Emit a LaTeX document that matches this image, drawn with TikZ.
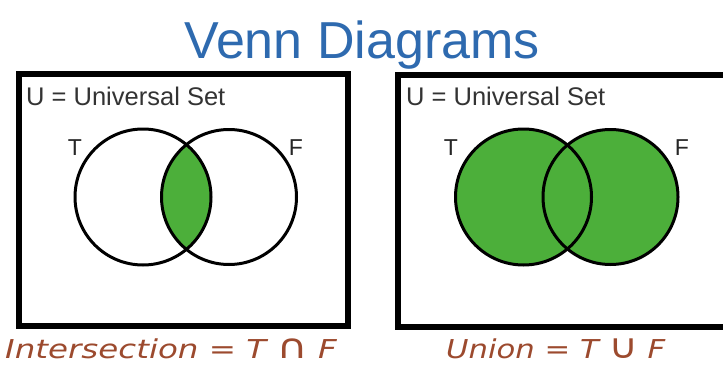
\documentclass[tikz,border=0pt]{standalone}
\usepackage{fontspec}
\setmainfont{Liberation Sans}
\newfontfamily\handfont{DejaVu Sans}
\usepackage{tikz}
\usetikzlibrary{positioning}
\definecolor{titleblue}{HTML}{2E6AAF}
\definecolor{venngreen}{HTML}{4CAF3A}
\definecolor{labelbrown}{HTML}{9C4A2E}
\newcommand{\bigop}[1]{{\fontsize{34}{30}\selectfont #1}}

\begin{document}
\begin{tikzpicture}[
    x=1pt, y=-1pt,
    every node/.style={inner sep=0pt},
    universe/.style={draw=black, line width=6.5pt},
    setline/.style={draw=black, line width=3pt},
    setfill/.style={fill=venngreen},
    setname/.style={text=black!85, font=\fontsize{23}{26}\selectfont},
    unilabel/.style={anchor=base west, text=black!80, font=\fontsize{25.5}{28}\selectfont},
    oplabel/.style={anchor=base west, text=labelbrown, font=\handfont\itshape\fontsize{26}{30}\selectfont}
]
    \useasboundingbox (0,0) rectangle (723,367);
    \fill[white] (0,0) rectangle (723,367);
    \begin{scope}
    \clip (0,0) rectangle (723,367);

    % Title
    \node[anchor=base, text=titleblue, font=\fontsize{52}{60}\selectfont] (title) at (362,58) {Venn Diagrams};

    % Intersection
    \coordinate (lt) at (143,197);
    \coordinate (lf) at (229,197);
    \draw[universe] (19,74) rectangle (348,326);
    \node[unilabel] (lu) at (26,105) {U = Universal Set};
    \begin{scope}
        \clip (lt) circle[radius=68pt];
        \fill[setfill] (lf) circle[radius=67.5pt];
    \end{scope}
    \draw[setline] (lt) circle[radius=68pt];
    \draw[setline] (lf) circle[radius=67.5pt];
    \node[setname] (ltname) at (75,148) {T};
    \node[setname] (lfname) at (296,148) {F};
    \node[oplabel] (inter) at (5,358) {\scalebox{1.25}[1]{Intersection = T \bigop{∩} F}};

    % Union
    \coordinate (rt) at (523.5,197);
    \coordinate (rf) at (610.5,197);
    \draw[universe] (398,75) rectangle (735,327);
    \node[unilabel] (ru) at (406,105) {U = Universal Set};
    \fill[setfill] (rt) circle[radius=68pt];
    \fill[setfill] (rf) circle[radius=67.5pt];
    \draw[setline] (rt) circle[radius=68pt];
    \draw[setline] (rf) circle[radius=67.5pt];
    \node[setname] (rtname) at (451,148) {T};
    \node[setname] (rfname) at (682,148) {F};
    \node[oplabel] (union) at (446,358) {\scalebox{1.18}[1]{Union = T \bigop{∪} F}};
    \end{scope}
\end{tikzpicture}
\end{document}
